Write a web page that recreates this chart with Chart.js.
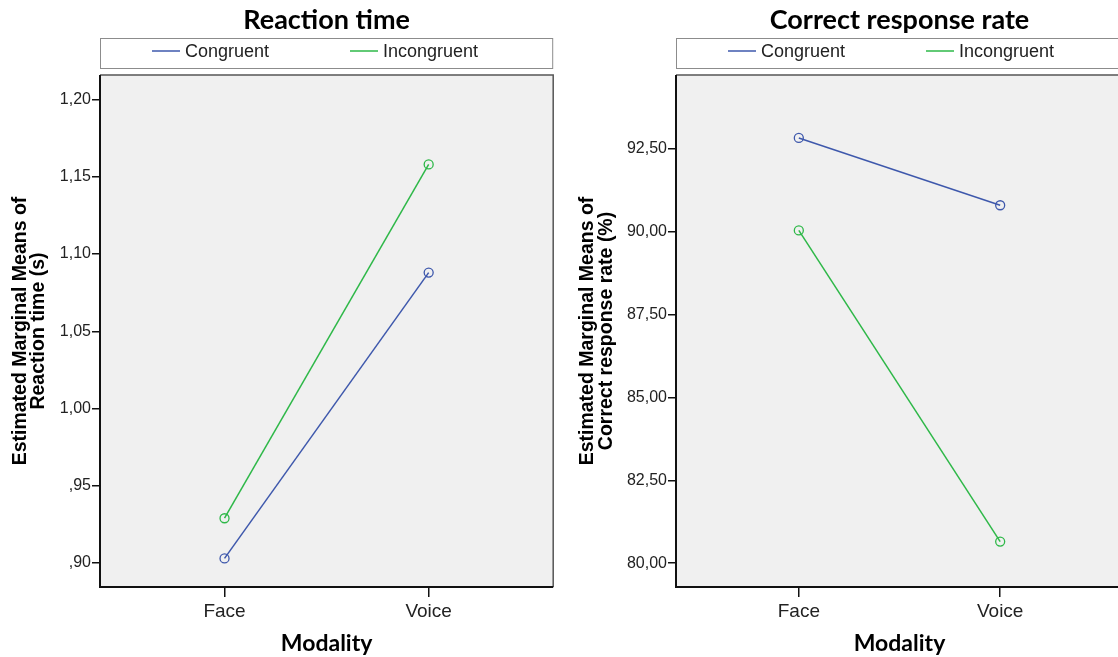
<!DOCTYPE html>
<html>
<head>
<meta charset="utf-8">
<script src="https://cdn.jsdelivr.net/npm/chart.js"></script>
<style>
  html, body { margin: 0; padding: 0; background: #fff; overflow: hidden; }
  #wrap { position: relative; width: 1118px; height: 657px; overflow: hidden; }
  #rtChart { position: absolute; left: 0; top: 0; }
  #accChart { position: absolute; left: 559px; top: 0; }
</style>
</head>
<body>
<div id="wrap">
  <canvas id="rtChart" width="559" height="657"></canvas>
  <canvas id="accChart" width="580" height="657"></canvas>
</div>
<script>
const modalities = ['Face', 'Voice'];
const groups = ['Congruent', 'Incongruent'];
const rtCongruent = [0.903, 1.088];
const rtIncongruent = [0.929, 1.158];
const accCongruent = [92.83, 90.80];
const accIncongruent = [90.04, 80.65];
const rtTicks = [0.90, 0.95, 1.00, 1.05, 1.10, 1.15, 1.20];
const rtTickLabels = [',90', ',95', '1,00', '1,05', '1,10', '1,15', '1,20'];
const accTicks = [80, 82.5, 85, 87.5, 90, 92.5];
const accTickLabels = ['80,00', '82,50', '85,00', '87,50', '90,00', '92,50'];
const lineColors = ['#3e58ac', '#2eb848'];

// SPSS-like frame: grey plot background, title and boxed legend above the plot
const spssFrame = {
  id: 'spssFrame',
  beforeDraw(chart, args, opts) {
    const { ctx, chartArea: a } = chart;
    ctx.save();
    ctx.fillStyle = '#f0f0f0';
    ctx.fillRect(a.left, a.top, a.right - a.left, a.bottom - a.top);

    ctx.fillStyle = '#000';
    ctx.font = 'bold 27px Lato';
    ctx.textAlign = 'center';
    ctx.textBaseline = 'middle';
    ctx.fillText(opts.title, (a.left + a.right) / 2, 20);

    ctx.fillStyle = '#fff';
    ctx.fillRect(a.left, 38, a.right - a.left, 30);
    ctx.strokeStyle = '#8c8c8c';
    ctx.lineWidth = 1;
    ctx.strokeRect(a.left + 0.5, 38.5, a.right - a.left - 1, 30);

    ctx.font = '18px "Liberation Sans"';
    ctx.textAlign = 'left';
    chart.data.datasets.forEach((ds, i) => {
      const x = a.left + 52 + i * 198;
      ctx.strokeStyle = ds.borderColor;
      ctx.lineWidth = 1.5;
      ctx.beginPath();
      ctx.moveTo(x, 51);
      ctx.lineTo(x + 28, 51);
      ctx.stroke();
      ctx.fillStyle = '#222';
      ctx.fillText(ds.label, x + 33, 52);
    });
    ctx.restore();
  },
  beforeDatasetsDraw(chart) {
    const { ctx, chartArea: a } = chart;
    ctx.save();
    ctx.strokeStyle = '#555';
    ctx.lineWidth = 1.5;
    ctx.beginPath();
    ctx.moveTo(a.left, a.top);
    ctx.lineTo(a.right, a.top);
    ctx.lineTo(a.right, a.bottom);
    ctx.stroke();
    ctx.strokeStyle = '#111';
    ctx.lineWidth = 2;
    ctx.beginPath();
    ctx.moveTo(a.left, a.top);
    ctx.lineTo(a.left, a.bottom);
    ctx.lineTo(a.right, a.bottom);
    ctx.stroke();
    ctx.restore();
  }
};

function makeChart(id, title, yTitle, series, ticks, tickLabels, yMin, yMax, yWidth, titlePad, padRight) {
  const ctx = document.getElementById(id).getContext('2d');
  return new Chart(ctx, {
    type: 'line',
    data: {
      datasets: series.map((vals, i) => ({
        label: groups[i],
        data: vals.map((v, j) => ({ x: j, y: v })),
        borderColor: lineColors[i],
        backgroundColor: 'rgba(0,0,0,0)',
        borderWidth: 1.5,
        pointRadius: 4.5,
        pointBorderWidth: 1.3,
        pointBackgroundColor: 'rgba(0,0,0,0)',
        pointBorderColor: lineColors[i]
      }))
    },
    options: {
      responsive: false,
      animation: false,
      layout: { padding: { top: 75, right: padRight, left: 0, bottom: 0 } },
      plugins: {
        legend: { display: false },
        tooltip: { enabled: false },
        spssFrame: { title: title }
      },
      scales: {
        x: {
          type: 'linear',
          min: -0.61,
          max: 1.61,
          afterBuildTicks: s => { s.ticks = modalities.map((m, i) => ({ value: i })); },
          afterFit: s => { s.height = 70; },
          ticks: {
            callback: v => modalities[v],
            color: '#222',
            font: { family: 'Liberation Sans', size: 19 },
            padding: 3,
            maxRotation: 0,
            autoSkip: false
          },
          grid: { drawOnChartArea: false, drawTicks: true, tickLength: 10, color: '#111', lineWidth: 1.5 },
          border: { display: false },
          title: {
            display: true,
            text: 'Modality',
            color: '#000',
            font: { family: 'Lato', weight: 'bold', size: 23 },
            padding: { top: 0, bottom: 0 }
          }
        },
        y: {
          min: yMin,
          max: yMax,
          afterBuildTicks: s => { s.ticks = ticks.map(v => ({ value: v })); },
          afterFit: s => { s.width = yWidth; },
          ticks: {
            callback: v => tickLabels[ticks.indexOf(v)],
            color: '#222',
            font: { family: 'Liberation Sans', size: 16 },
            padding: 1,
            autoSkip: false
          },
          grid: { drawOnChartArea: false, drawTicks: true, tickLength: 8, color: '#111', lineWidth: 1.5 },
          border: { display: false },
          title: {
            display: true,
            text: yTitle,
            color: '#000',
            font: { family: 'Liberation Sans', weight: 'bold', size: 19.5, lineHeight: 0.95 },
            padding: { top: titlePad, bottom: 0 }
          }
        }
      }
    },
    plugins: [spssFrame]
  });
}

makeChart('rtChart', 'Reaction time',
  ['Estimated Marginal Means of', 'Reaction time (s)'],
  [rtCongruent, rtIncongruent], rtTicks, rtTickLabels,
  0.8845, 1.2159, 100, 11, 4);

makeChart('accChart', 'Correct response rate',
  ['Estimated Marginal Means of', 'Correct response rate (%)'],
  [accCongruent, accIncongruent], accTicks, accTickLabels,
  79.28, 94.73, 117, 19.5, 16);
</script>
</body>
</html>
